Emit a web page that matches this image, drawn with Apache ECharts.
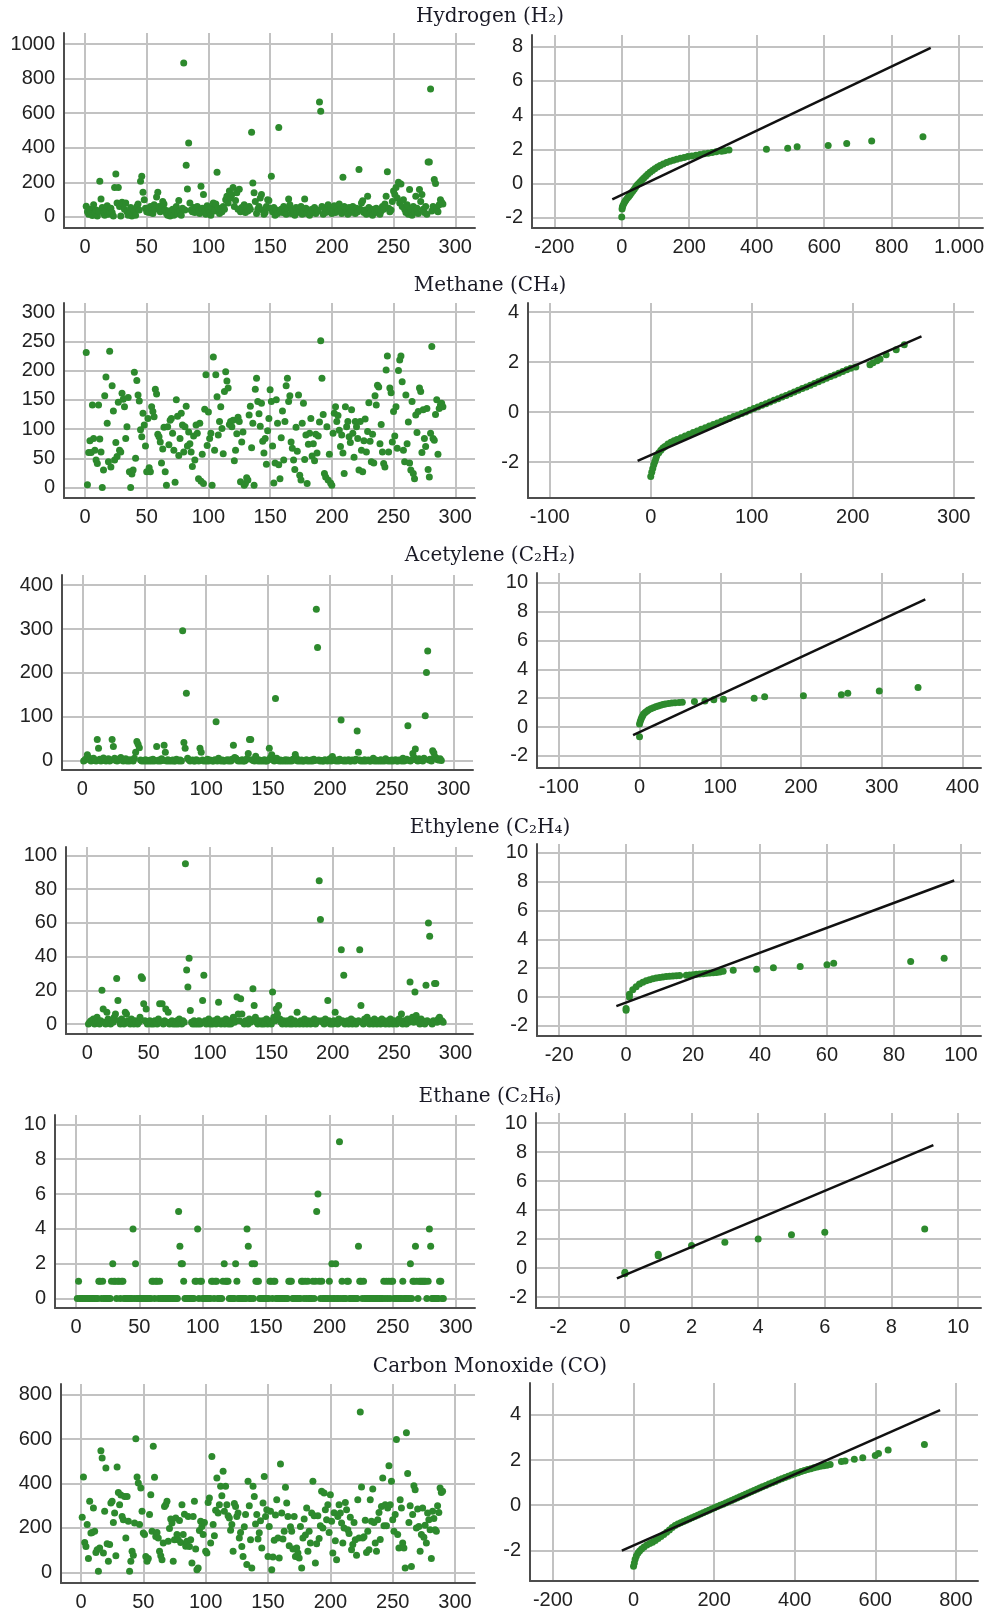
<!DOCTYPE html>
<html>
<head>
<meta charset="utf-8">
<script src="https://cdn.jsdelivr.net/npm/echarts@6.0.0/dist/echarts.min.js"></script>
<style>
  html, body { margin: 0; padding: 0; background: #fff; }
  #main { width: 988px; height: 1617px; }
</style>
</head>
<body>
<div id="main"></div>
<script>
// sample values by index (left column)
const hydrogen = [
  62, 30, 15, 45, 20, 8, 70, 25, 40, 5,
  35, 206, 104, 55, 20, 10, 40, 65, 15, 30,
  50, 25, 5, 171, 249, 80, 171, 60, 5, 85,
  75, 45, 80, 30, 10, 20, 55, 5, 15, 35,
  10, 60, 75, 40, 206, 235, 143, 100, 50, 30,
  45, 25, 60, 35, 20, 70, 45, 115, 143, 60,
  30, 50, 90, 75, 40, 20, 10, 35, 5, 25,
  45, 10, 30, 60, 20, 95, 35, 10, 50, 890,
  40, 299, 162, 428, 80, 40, 30, 55, 25, 45,
  60, 35, 20, 177, 50, 130, 30, 15, 65, 40,
  25, 10, 55, 80, 35, 75, 258, 50, 20, 40,
  30, 60, 45, 100, 120, 80, 150, 110, 130, 170,
  60, 95, 140, 45, 160, 30, 55, 40, 70, 25,
  50, 35, 60, 45, 490, 197, 140, 90, 20, 45,
  60, 110, 130, 40, 15, 25, 60, 100, 95, 50,
  235, 30, 55, 10, 40, 20, 518, 35, 45, 25,
  60, 30, 15, 50, 104, 70, 20, 40, 35, 10,
  55, 25, 45, 30, 60, 15, 35, 104, 50, 20,
  40, 10, 25, 45, 30, 55, 20, 40, 35, 665,
  611, 60, 15, 50, 25, 45, 70, 30, 55, 20,
  40, 65, 25, 50, 35, 75, 45, 20, 229, 60,
  30, 45, 15, 55, 25, 40, 60, 35, 20, 50,
  30, 274, 45, 80, 94, 25, 40, 15, 120, 55,
  20, 35, 10, 45, 30, 50, 25, 40, 15, 35,
  60, 45, 75, 120, 262, 50, 30, 40, 90, 150,
  130, 170, 110, 200, 80, 190, 60, 100, 45, 25,
  70, 15, 158, 40, 10, 60, 30, 120, 50, 20,
  158, 90, 130, 45, 25, 60, 15, 318, 318, 740,
  35, 60, 216, 193, 50, 30, 70, 100, 85, 75
];
const methane = [
  231, 5, 60, 80, 60, 141, 84, 64, 47, 41,
  141, 83, 61, 0, 30, 157, 189, 110, 44, 233,
  35, 174, 131, 47, 77, 53, 146, 64, 61, 161,
  151, 138, 84, 104, 154, 27, 0, 23, 30, 197,
  50, 183, 158, 148, 99, 87, 127, 107, 71, 27, 118, 34,
  27, 138, 130, 121, 168, 160, 91, 87, 78, 42, 66, 103,
  27, 4, 104, 73, 115, 118, 93, 64, 9, 150, 122, 55,
  84, 127, 107, 61, 104, 139, 71, 95, 75, 61, 36, 88,
  47, 107, 93, 15, 110, 11, 57, 7, 134, 193, 72, 129,
  84, 93, 4, 223, 64, 193, 155, 90, 113, 138, 101, 58,
  164, 198, 182, 170, 108, 113, 104, 115, 46, 64, 92, 120,
  113, 10, 78, 95, 4, 7, 17, 13, 124, 139, 68, 110,
  4, 168, 187, 147, 126, 105, 144, 79, 59, 84, 40, 97,
  118, 167, 147, 71, 8, 42, 150, 110, 39, 15, 85, 131,
  47, 113, 174, 187, 147, 157, 78, 67, 47, 31, 103, 62,
  158, 21, 13, 110, 144, 48, 90, 7, 74, 93, 118, 54,
  75, 46, 91, 59, 88, 112, 251, 187, 125, 24, 18, 104,
  13, 57, 8, 4, 93, 127, 138, 113, 123, 98, 70,
  90, 59, 24, 138, 104, 113, 87, 77, 133, 93, 52,
  113, 104, 84, 30, 113, 64, 27, 80, 117, 61, 96,
  145, 79, 44, 91, 42, 157, 141, 175, 172, 75, 108,
  61, 41, 35, 201, 225, 61, 170, 162, 78, 130, 88,
  138, 67, 200, 218, 225, 181, 64, 44, 158, 75, 112,
  42, 30, 147, 24, 15, 124, 94, 130, 170, 164, 60,
  133, 84, 70, 135, 31, 18, 93, 241, 84, 81, 125,
  150, 57, 135, 141, 144, 138
];
const acetylene = [
  0, 2, 5, 14, 8, 3, 0, 1, 6, 2,
  0, 49, 29, 4, 0, 2, 7, 1, 0, 3,
  5, 0, 2, 49, 33, 6, 1, 0, 4, 2,
  8, 3, 0, 1, 5, 0, 2, 0, 3, 1,
  0, 6, 20, 44, 38, 30, 2, 0, 1, 0,
  3, 0, 1, 0, 2, 0, 4, 0, 1, 33,
  0, 2, 0, 5, 1, 36, 20, 0, 3, 0,
  1, 0, 2, 0, 0, 4, 1, 0, 2, 0,
  296, 42, 29, 154, 6, 3, 0, 1, 2, 0,
  0, 3, 1, 0, 29, 20, 2, 0, 1, 0,
  4, 0, 2, 1, 0, 0, 3, 89, 0, 6,
  1, 0, 2, 0, 0, 1, 3, 0, 2, 0,
  4, 36, 8, 6, 2, 0, 1, 0, 3, 0,
  0, 2, 5, 17, 49, 49, 3, 1, 0, 11,
  4, 0, 2, 0, 1, 0, 3, 0, 0, 2,
  29, 8, 14, 2, 0, 142, 6, 1, 0, 2,
  0, 1, 0, 3, 0, 2, 0, 1, 0, 4,
  2, 15, 6, 0, 1, 0, 2, 0, 0, 1,
  3, 0, 1, 0, 2, 0, 4, 1, 345, 258,
  2, 0, 1, 0, 0, 3, 1, 0, 2, 5,
  0, 10, 3, 1, 0, 2, 0, 4, 93, 1,
  0, 2, 0, 1, 3, 0, 0, 2, 1, 0,
  4, 68, 20, 2, 0, 1, 0, 3, 0, 1,
  2, 0, 0, 1, 6, 0, 2, 0, 1, 0,
  3, 0, 1, 0, 5, 2, 0, 1, 0, 2,
  0, 1, 3, 0, 0, 2, 1, 0, 6, 0,
  2, 4, 80, 1, 0, 3, 17, 8, 27, 2,
  0, 5, 1, 3, 0, 6, 103, 201, 250, 2,
  4, 0, 23, 18, 9, 6, 3, 2, 5, 1
];
const ethylene = [
  0, 1, 2, 1, 3, 0, 2, 4, 1, 0,
  2, 20, 9, 1, 0, 7, 3, 1, 0, 2,
  1, 4, 6, 27, 14, 2, 0, 3, 1, 0,
  7, 6, 2, 1, 0, 3, 1, 0, 2, 1,
  0, 1, 4, 28, 27, 12, 2, 9, 0, 1,
  2, 0, 1, 0, 2, 1, 0, 3, 12, 1,
  12, 0, 2, 9, 1, 7, 0, 1, 2, 0,
  1, 0, 2, 0, 3, 1, 0, 2, 1, 95,
  32, 22, 39, 8, 1, 0, 2, 0, 1, 0,
  2, 0, 1, 14, 29, 2, 0, 1, 3, 0,
  1, 0, 2, 1, 0, 3, 13, 1, 0, 2,
  1, 0, 3, 1, 0, 2, 0, 1, 4, 1,
  2, 16, 6, 2, 15, 6, 1, 0, 2, 1,
  0, 3, 1, 2, 21, 11, 4, 1, 0, 2,
  1, 0, 2, 0, 1, 3, 0, 2, 1, 0,
  19, 4, 2, 9, 6, 11, 3, 1, 0, 2,
  1, 0, 2, 1, 0, 3, 0, 1, 2, 0,
  7, 1, 0, 2, 1, 0, 3, 1, 0, 2,
  1, 0, 2, 1, 3, 0, 1, 2, 85, 62,
  2, 1, 0, 3, 1, 14, 2, 0, 1, 0,
  2, 7, 1, 0, 3, 1, 44, 2, 29, 0,
  1, 2, 0, 1, 3, 0, 2, 1, 0, 1,
  2, 44, 11, 1, 0, 3, 2, 4, 1, 0,
  2, 1, 0, 3, 1, 0, 2, 1, 0, 3,
  1, 2, 0, 1, 2, 0, 3, 1, 0, 2,
  1, 0, 2, 3, 1, 6, 0, 2, 1, 0,
  3, 1, 25, 2, 4, 1, 19, 5, 2, 1,
  0, 3, 2, 1, 0, 23, 2, 60, 52, 1,
  0, 2, 24, 24, 1, 3, 4, 2, 2, 1
];
const ethane = [
  0, 1, 0, 0, 0, 0, 0, 0, 0, 0,
  0, 0, 0, 0, 0, 0, 0, 1, 1, 0,
  1, 0, 0, 0, 0, 0, 0, 1, 2, 1,
  1, 0, 1, 1, 0, 1, 1, 0, 0, 0,
  0, 0, 0, 0, 4, 0, 2, 0, 0, 0,
  0, 0, 0, 0, 0, 0, 0, 0, 0, 1,
  1, 0, 1, 1, 0, 1, 0, 0, 0, 0,
  0, 0, 0, 0, 0, 0, 0, 0, 0, 0,
  5, 3, 2, 2, 1, 0, 0, 0, 0, 0,
  0, 0, 0, 1, 1, 4, 0, 1, 1, 0,
  0, 0, 0, 0, 0, 0, 1, 1, 0, 1,
  1, 0, 0, 0, 0, 1, 2, 1, 1, 1,
  0, 0, 0, 0, 0, 2, 1, 0, 0, 0,
  0, 0, 0, 0, 4, 3, 0, 0, 2, 0,
  2, 1, 1, 1, 0, 0, 0, 0, 0, 0,
  0, 0, 1, 1, 0, 1, 1, 0, 0, 0,
  0, 0, 0, 0, 0, 0, 0, 1, 1, 1,
  0, 0, 0, 0, 0, 0, 0, 1, 1, 0,
  1, 0, 1, 0, 0, 0, 1, 0, 1, 5,
  6, 1, 0, 1, 0, 0, 0, 0, 0, 1,
  0, 2, 0, 0, 2, 0, 0, 9, 0, 1,
  0, 0, 0, 1, 1, 0, 0, 0, 0, 0,
  0, 0, 3, 1, 1, 0, 1, 0, 0, 0,
  0, 0, 0, 0, 0, 0, 0, 0, 0, 0,
  0, 0, 1, 0, 1, 0, 1, 0, 1, 1,
  0, 0, 0, 0, 0, 0, 0, 1, 0, 0,
  0, 0, 0, 2, 0, 1, 1, 3, 1, 0,
  1, 1, 1, 1, 1, 1, 0, 1, 4, 3,
  0, 0, 0, 0, 0, 0, 1, 1, 0, 0
];
const carbonMonoxide = [
  248, 429, 135, 117, 215, 62, 320, 177, 180, 290,
  185, 90, 102, 5, 110, 548, 515, 87, 275, 470,
  129, 50, 125, 312, 320, 225, 267, 75, 474, 360,
  305, 348, 252, 237, 342, 155, 342, 230, 5, 50,
  95, 77, 222, 602, 429, 402, 215, 380, 275, 177,
  170, 72, 50, 62, 260, 350, 185, 568, 428, 162,
  180, 155, 95, 75, 57, 132, 297, 305, 320, 140, 198, 240,
  222, 50, 147, 245, 170, 147, 234, 135, 305, 170, 262, 118,
  140, 252, 117, 147, 42, 252, 320, 105, 12, 20, 188, 230,
  207, 170, 225, 95, 87, 315, 335, 132, 522, 215, 165, 280,
  425, 267, 305, 388, 345, 455, 275, 388, 305, 255, 245, 190,
  215, 95, 310, 297, 252, 267, 155, 180, 117, 72, 205, 260,
  35, 410, 300, 147, 20, 388, 342, 218, 260, 150, 178, 232,
  110, 312, 432, 252, 282, 72, 207, 275, 12, 69, 145, 258,
  327, 155, 65, 488, 267, 150, 185, 383, 312, 252, 120, 205,
  185, 105, 252, 72, 110, 87, 65, 207, 20, 155, 240, 168,
  290, 95, 185, 132, 267, 410, 255, 42, 129, 255, 152, 210,
  365, 200, 357, 282, 237, 305, 180, 350, 230, 87, 268, 142,
  57, 252, 305, 267, 222, 132, 200, 315, 282, 192, 175, 248,
  102, 125, 225, 147, 77, 327, 155, 722, 384, 155, 160, 235,
  90, 185, 102, 327, 230, 375, 225, 132, 95, 237, 270, 148,
  297, 425, 210, 305, 210, 290, 480, 305, 410, 237, 185, 260,
  598, 170, 110, 327, 290, 132, 110, 20, 628, 445, 225, 300,
  27, 260, 390, 372, 200, 285, 207, 95, 170, 290, 158, 212,
  132, 267, 237, 192, 62, 275, 243, 192, 185, 300, 270, 380, 360, 365
];

// Q-Q points [observed value, expected normal] and the reference lines (right column)
const hydrogenQQ = [
  [0, -1.96], [1, -1.5], [2, -1.38], [4, -1.28], [7, -1.15], [10, -1.05], [13, -0.95], [17, -0.85],
  [21, -0.76], [25, -0.66], [29, -0.55], [33, -0.45], [37, -0.34], [41, -0.22], [45, -0.11], [50, 0.0],
  [55, 0.1], [60, 0.2], [65, 0.3], [71, 0.42], [77, 0.53], [84, 0.65], [91, 0.76], [98, 0.86],
  [106, 0.96], [114, 1.05], [123, 1.14], [133, 1.22], [143, 1.3], [153, 1.36], [163, 1.42], [174, 1.47],
  [185, 1.52], [196, 1.57], [208, 1.61], [220, 1.65], [232, 1.69], [244, 1.73], [256, 1.77], [268, 1.81],
  [280, 1.85], [296, 1.89], [305, 1.92], [318, 1.95], [429, 2.0], [492, 2.06], [520, 2.14], [612, 2.22],
  [667, 2.34], [741, 2.49], [893, 2.73]
];
const hydrogenLine = [[-28, -0.93], [916, 7.94]];
const methaneQQ = [
  [0, -2.57], [1, -2.4], [2, -2.25], [3, -2.1], [4, -1.98], [5, -1.86], [6, -1.74], [8, -1.62],
  [10, -1.52], [12, -1.43], [14, -1.37], [17, -1.27], [20, -1.2], [23, -1.14], [26, -1.09], [30, -1.02],
  [34, -0.95], [38, -0.885], [42, -0.815], [46, -0.75], [50, -0.685], [54, -0.62], [58, -0.555], [62, -0.49],
  [66, -0.43], [70, -0.365], [74, -0.3], [78, -0.24], [82, -0.175], [86, -0.12], [90, -0.055], [94, 0.01],
  [98, 0.08], [102, 0.145], [106, 0.21], [110, 0.275], [114, 0.34], [118, 0.405], [122, 0.47], [126, 0.535],
  [130, 0.6], [134, 0.665], [138, 0.73], [142, 0.8], [146, 0.87], [150, 0.94], [154, 1.0], [158, 1.07],
  [162, 1.14], [166, 1.21], [170, 1.28], [174, 1.35], [178, 1.42], [182, 1.48], [186, 1.55], [190, 1.62],
  [194, 1.69], [198, 1.75], [203, 1.8], [217, 1.89], [220, 1.97], [224, 2.05], [227, 2.12], [233, 2.29],
  [243, 2.49], [251, 2.69]
];
const methaneLine = [[-13, -1.95], [268, 3.03]];
const acetyleneQQ = [
  [0, -0.67], [0, 0.2], [1, 0.4], [2, 0.55], [3, 0.7], [4, 0.8], [5, 0.9], [7, 1.0], [9, 1.1],
  [11, 1.18], [14, 1.26], [17, 1.33], [20, 1.4], [23, 1.46], [26, 1.51], [29, 1.56], [32, 1.6],
  [36, 1.63], [40, 1.66], [44, 1.68], [49, 1.7], [53, 1.72], [68, 1.76], [81, 1.81], [92, 1.88],
  [104, 1.93], [142, 2.0], [155, 2.09], [203, 2.16], [250, 2.23], [258, 2.34], [297, 2.5], [345, 2.74]
];
const acetyleneLine = [[-8, -0.56], [354, 8.84]];
const ethyleneQQ = [
  [0, -0.92], [0, -0.8], [1, 0.0], [1, 0.2], [2, 0.5], [3, 0.72], [4, 0.9], [5, 1.02], [6, 1.12],
  [7, 1.2], [8, 1.27], [9, 1.32], [10, 1.36], [11, 1.39], [12, 1.42], [13, 1.44], [14, 1.46],
  [15, 1.48], [16, 1.49], [18, 1.51], [19, 1.53], [20, 1.55], [21, 1.58], [22, 1.6], [23, 1.62],
  [24, 1.64], [25, 1.66], [26, 1.68], [27, 1.7], [28, 1.74], [29, 1.78], [32, 1.86], [39, 1.93],
  [44, 2.02], [52, 2.11], [60, 2.23], [62, 2.34], [85, 2.46], [95, 2.69]
];
const ethyleneLine = [[-2.9, -0.63], [98, 8.07]];
const ethaneQQ = [
  [0, -0.4], [0, -0.3], [1, 0.85], [1, 0.95], [2, 1.55], [3, 1.78], [4, 2.0], [5, 2.29], [6, 2.47], [9, 2.7]
];
const ethaneLine = [[-0.24, -0.72], [9.26, 8.48]];
const carbonMonoxideQQ = [
  [0, -2.71], [2, -2.56], [4, -2.4], [7, -2.25], [11, -2.12], [15, -2.03], [20, -1.94], [26, -1.85],
  [33, -1.77], [40, -1.7], [47, -1.64], [54, -1.57], [61, -1.48], [68, -1.39], [75, -1.3], [82, -1.2],
  [89, -1.1], [96, -0.99], [103, -0.9], [110, -0.84], [117, -0.78], [124, -0.73], [131, -0.67], [138, -0.615],
  [145, -0.56], [152, -0.505], [159, -0.45], [166, -0.395], [173, -0.34], [180, -0.285], [187, -0.23], [194, -0.175],
  [201, -0.12], [208, -0.065], [215, -0.01], [222, 0.045], [229, 0.1], [236, 0.155], [243, 0.21], [250, 0.265],
  [257, 0.32], [264, 0.375], [271, 0.43], [278, 0.485], [285, 0.54], [292, 0.595], [299, 0.65], [306, 0.705],
  [313, 0.76], [320, 0.815], [328, 0.875], [336, 0.935], [344, 0.99], [352, 1.05], [360, 1.11], [368, 1.165],
  [376, 1.22], [384, 1.275], [392, 1.33], [400, 1.385], [408, 1.435], [416, 1.485], [424, 1.53], [432, 1.575],
  [440, 1.615], [448, 1.655], [456, 1.69], [464, 1.72], [472, 1.75], [480, 1.77], [488, 1.8], [516, 1.93],
  [525, 1.95], [548, 2.03], [569, 2.1], [600, 2.2], [608, 2.29], [632, 2.44], [722, 2.69]
];
const carbonMonoxideLine = [[-29, -2.01], [761, 4.21]];

// tick labels
const indexTicks = [0, 50, 100, 150, 200, 250, 300];
const hydrogenTicks = [0, 200, 400, 600, 800, 1000];
const hydrogenQQTicks = [-200, 0, 200, 400, 600, 800, 1000];
const methaneTicks = [0, 50, 100, 150, 200, 250, 300];
const methaneQQTicks = [-100, 0, 100, 200, 300];
const acetyleneTicks = [0, 100, 200, 300, 400];
const acetyleneQQTicks = [-100, 0, 100, 200, 300, 400];
const ethyleneTicks = [0, 20, 40, 60, 80, 100];
const ethyleneQQTicks = [-20, 0, 20, 40, 60, 80, 100];
const ethaneTicks = [0, 2, 4, 6, 8, 10];
const ethaneQQTicks = [-2, 0, 2, 4, 6, 8, 10];
const carbonMonoxideTicks = [0, 200, 400, 600, 800];
const carbonMonoxideQQTicks = [-200, 0, 200, 400, 600, 800];
const normalTicksA = [-2, 0, 2, 4, 6, 8];
const normalTicksB = [-2, 0, 2, 4];
const normalTicksC = [-2, 0, 2, 4, 6, 8, 10];

const gases = [
  { title: 'Hydrogen (H₂)', values: hydrogen, yTicks: hydrogenTicks, qq: hydrogenQQ, line: hydrogenLine, qqTicks: hydrogenQQTicks, nTicks: normalTicksA },
  { title: 'Methane (CH₄)', values: methane, yTicks: methaneTicks, qq: methaneQQ, line: methaneLine, qqTicks: methaneQQTicks, nTicks: normalTicksB },
  { title: 'Acetylene (C₂H₂)', values: acetylene, yTicks: acetyleneTicks, qq: acetyleneQQ, line: acetyleneLine, qqTicks: acetyleneQQTicks, nTicks: normalTicksC },
  { title: 'Ethylene (C₂H₄)', values: ethylene, yTicks: ethyleneTicks, qq: ethyleneQQ, line: ethyleneLine, qqTicks: ethyleneQQTicks, nTicks: normalTicksC },
  { title: 'Ethane (C₂H₆)', values: ethane, yTicks: ethaneTicks, qq: ethaneQQ, line: ethaneLine, qqTicks: ethaneQQTicks, nTicks: normalTicksC },
  { title: 'Carbon Monoxide (CO)', values: carbonMonoxide, yTicks: carbonMonoxideTicks, qq: carbonMonoxideQQ, line: carbonMonoxideLine, qqTicks: carbonMonoxideQQTicks, nTicks: normalTicksB }
];

// panel boxes and axis extents, one row per gas: [left, top, width, height, xmin, xmax, ymin, ymax]
const layout = [
  { L: [64, 33, 411, 195, -17, 316, -64, 1064], R: [532, 35, 451, 193, -266, 1071, -2.61, 8.69], ty: 17 },
  { L: [64, 303, 411, 195, -17, 316, -17.8, 315.4], R: [528, 303, 446, 195, -121.5, 320, -3.43, 4.36], ty: 286 },
  { L: [62, 575, 411, 195, -16.5, 315.6, -20.5, 422.7], R: [537, 573, 444, 195, -127, 423, -2.84, 10.67], ty: 556 },
  { L: [66, 847, 407, 187, -17.3, 314.3, -5.9, 105], R: [537, 844, 444, 192, -26.6, 106, -2.7, 10.6], ty: 828 },
  { L: [55, 1115, 420, 193, -16.6, 315, -0.54, 10.54], R: [536, 1113, 445, 195, -2.67, 10.69, -2.76, 10.7], ty: 1097 },
  { L: [61, 1384, 414, 199, -16, 316, -47.8, 848], R: [530, 1383, 448, 198, -257, 855, -3.36, 5.41], ty: 1367 }
];

const green = '#2d8a2d';
const grids = [], xAxes = [], yAxes = [], series = [], graphics = [];

function makeAxis(gridIndex, min, max, ticks, fmt) {
  return {
    type: 'value', gridIndex: gridIndex, min: min, max: max,
    axisLine: { show: true, onZero: false, lineStyle: { color: '#4d4d4d', width: 2 } },
    axisTick: { show: false, customValues: ticks },
    axisLabel: {
      customValues: ticks, color: '#222', fontFamily: 'Liberation Sans', fontSize: 20, margin: 9,
      formatter: fmt || (v => String(v))
    },
    splitLine: { show: true, lineStyle: { color: '#c2c2c2', width: 2 } }
  };
}

gases.forEach((g, row) => {
  const lay = layout[row];
  [['L', g.values.map((v, i) => [i + 1, v])], ['R', g.qq]].forEach(([side, pts]) => {
    const b = lay[side];
    const k = grids.length;
    grids.push({ left: b[0], top: b[1], width: b[2], height: b[3] });
    const isLeft = side === 'L';
    const xFmt = (!isLeft && row === 0) ? (v => v >= 1000 ? v.toLocaleString('de-DE') : String(v)) : null;
    xAxes.push(makeAxis(k, b[4], b[5], isLeft ? indexTicks : g.qqTicks, xFmt));
    yAxes.push(makeAxis(k, b[6], b[7], isLeft ? g.yTicks : g.nTicks));
    series.push({
      type: 'scatter', xAxisIndex: k, yAxisIndex: k, data: pts,
      symbolSize: 7, itemStyle: { color: green, opacity: 1 }, silent: true, z: 2
    });
    if (!isLeft) {
      series.push({
        type: 'line', xAxisIndex: k, yAxisIndex: k, data: g.line,
        symbol: 'none', lineStyle: { color: '#111', width: 2.5 }, silent: true, z: 3
      });
    }
  });
  graphics.push({
    type: 'text', x: 490, y: lay.ty,
    style: { text: g.title, fill: '#1a1a26', font: '20px "DejaVu Serif"', align: 'center', verticalAlign: 'middle' }
  });
});

const myChart = echarts.init(document.getElementById('main'), null, { renderer: 'canvas' });
myChart.setOption({
  animation: false,
  backgroundColor: '#fff',
  grid: grids,
  xAxis: xAxes,
  yAxis: yAxes,
  series: series,
  graphic: graphics
});
</script>
</body>
</html>
